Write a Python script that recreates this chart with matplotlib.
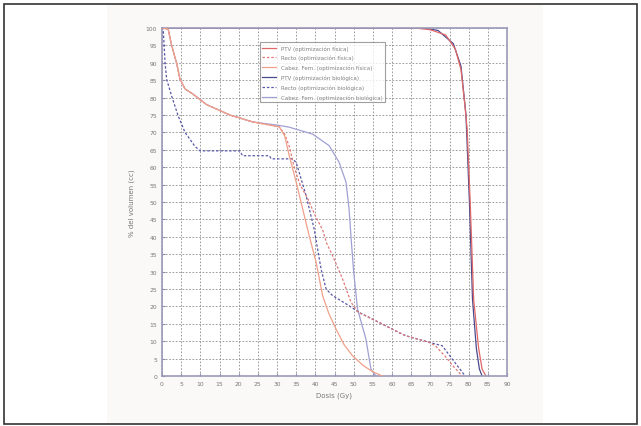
import matplotlib
matplotlib.use("Agg")
import matplotlib.pyplot as plt
from matplotlib.patches import Rectangle

# dose (Gy) / volume (%)
ptv_fis_x = [0, 60, 66, 70, 74, 76.5, 78, 79, 79.6, 80.4, 81.3, 82.6, 83.5, 84.5]
ptv_fis_y = [100, 100, 100, 99.5, 98, 94, 88, 78, 71, 50, 22, 8, 2, 0]

ptv_bio_x = [0, 60, 68, 72, 76, 78, 79.3, 80.2, 81, 82, 82.8, 83.5]
ptv_bio_y = [100, 100, 100, 99.3, 95.5, 89, 75, 50, 22, 8, 2, 0]

recto_fis_x = [0, 1.6, 2.5, 3.8, 4.7, 6, 8.1, 11.6, 17.7, 23.7, 30.6, 32, 33.2,
               34.5, 36, 38, 40, 41.9, 43, 44.5, 47.1, 49.3, 51.2, 56.6, 61.8,
               63.5, 69.6, 71.3, 74, 76, 78.3]
recto_fis_y = [100, 99.7, 95, 90, 85.3, 82.5, 81, 78, 75, 73, 71.6, 69.5, 66,
               60, 55, 51, 46, 42, 38, 34.6, 27.9, 21.2, 18.3, 15.4, 12.5,
               11.6, 9.7, 8.7, 5.5, 2.8, 0]

cabez_fis_x = [0, 1.6, 2.5, 3.8, 4.7, 6, 8.1, 11.6, 17.7, 23.7, 30.6, 32, 33.2,
               35, 36.7, 38.4, 40.2, 41.9, 43.5, 45.4, 47.5, 49.7, 52.5, 55, 57.5]
cabez_fis_y = [100, 99.7, 95, 90, 85.3, 82.5, 81, 78, 75, 73, 71.6, 69, 63.3,
               55.7, 48, 40.3, 32.7, 23.1, 18, 13.5, 9, 5.8, 3, 1.2, 0]

recto_bio_x = [0, 0.3, 0.8, 1.2, 2.5, 4.2, 6, 8.6, 9.9, 20.3, 21, 28, 28.5, 34,
               35, 37.6, 39.7, 41.5, 42.8, 44.5, 48.8, 51.4, 56.6, 61.8, 63.5,
               69.6, 73.1, 75.7, 79.1]
recto_bio_y = [100, 100, 90, 85.3, 80.5, 74.8, 70, 66, 64.7, 64.7, 63.3, 63.3,
               62.4, 62.4, 61.4, 51.8, 42.2, 30.7, 25, 23.1, 20.2, 18.3, 15.4,
               12.5, 11.6, 9.7, 8.7, 4.9, 0]

cabez_bio_x = [0, 1.6, 2.5, 3.8, 4.7, 6, 8.1, 11.6, 17.7, 23.7, 30.6, 33.2,
               39.3, 43.6, 46.2, 48, 48.8, 49.3, 50, 51, 53.2, 54.5, 55.8]
cabez_bio_y = [100, 99.7, 95, 90, 85.3, 82.5, 81, 78, 75, 73, 72, 71.5,
               69.5, 66.2, 61.4, 55.7, 48, 40, 30, 19.3, 10.6, 2, 0]

labels = ["PTV (optimización física)",
          "Recto (optimización física)",
          "Cabez. Fem. (optimización física)",
          "PTV (optimización biológica)",
          "Recto (optimización biológica)",
          "Cabez. Fem. (optimización biológica)"]

fig = plt.figure(figsize=(6.41, 4.27), dpi=100)

# light matlab-like figure area and outer frame
bg = Rectangle((107 / 641, 2 / 427), 436 / 641, 420 / 427,
               transform=fig.transFigure, facecolor="#faf9f7",
               edgecolor="none", zorder=-10)
fig.add_artist(bg)
frame = Rectangle((3.5 / 641, 2.5 / 427), 633 / 641, 420 / 427,
                  transform=fig.transFigure, facecolor="none",
                  edgecolor="#333333", linewidth=1.2, zorder=5)
fig.add_artist(frame)

ax = fig.add_axes([162 / 641, 50 / 427, 345 / 641, 348 / 427])
ax.set_facecolor("white")

# PTV lines sit under the spines so their 100 % part hides behind the top border
ax.plot(ptv_fis_x, ptv_fis_y, color="#e06868", lw=0.9, label=labels[0], zorder=2.2)
ax.plot(recto_fis_x, recto_fis_y, color="#e07878", lw=0.9, ls=(0, (2, 1.5)), label=labels[1], zorder=4)
ax.plot(cabez_fis_x, cabez_fis_y, color="#f0a08a", lw=0.9, label=labels[2], zorder=4)
ax.plot(ptv_bio_x, ptv_bio_y, color="#4a4a8e", lw=0.9, label=labels[3], zorder=2.1)
ax.plot(recto_bio_x, recto_bio_y, color="#5858a8", lw=0.9, ls=(0, (2, 1.5)), label=labels[4], zorder=3)
ax.plot(cabez_bio_x, cabez_bio_y, color="#a0a0d4", lw=0.9, label=labels[5], zorder=2)

ax.set_xlim(0, 90)
ax.set_ylim(0, 100)
ax.set_xticks(range(0, 91, 5))
ax.set_yticks(range(0, 101, 5))
ax.grid(True, color="#8c8c8c", ls=(0, (2, 2)), lw=0.6)
ax.tick_params(direction="in", length=2, labelsize=4.3, labelcolor="#777777",
               colors="#8a8aa8")
for s in ax.spines.values():
    s.set_color("#9a9ab8")
    s.set_linewidth(1.2)
    s.set_zorder(2.5)

ax.set_xlabel("Dosis (Gy)", fontsize=5, color="#777777", labelpad=4)
ax.set_ylabel("% del volumen (cc)", fontsize=5, color="#777777", labelpad=8)

leg = ax.legend(loc="upper left", bbox_to_anchor=(0.275, 0.967), fontsize=4.0,
                frameon=True, fancybox=False, handlelength=2.5,
                borderpad=0.5, labelspacing=0.78)
leg.set_zorder(5)
leg.get_frame().set_edgecolor("#888888")
leg.get_frame().set_linewidth(0.8)
for t in leg.get_texts():
    t.set_color("#808080")

fig.savefig("out.png", dpi=100)
